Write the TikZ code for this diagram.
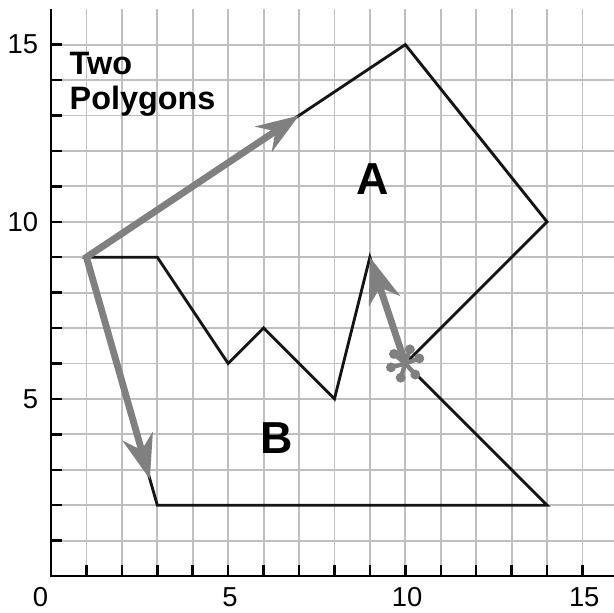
\documentclass[tikz,border=0pt]{standalone}
\usepackage{fontspec}
\setmainfont{Liberation Sans}
\usetikzlibrary{arrows.meta,calc}
\begin{document}
\begin{tikzpicture}[x=1cm,y=1cm,
  gridline/.style={draw=gray!50, line width=1.5pt},
  axisline/.style={draw=black, line width=1.4pt},
  tickline/.style={draw=black, line width=2pt},
  polyline/.style={draw=black!92, line width=2.3pt, line join=miter},
  garrowboth/.style={draw=gray, line width=5.5pt, line join=miter,
    {Stealth[length=1.25cm,width=0.88cm,inset=0.4cm]}-{Stealth[length=1.2cm,width=0.85cm,inset=0.4cm]}},
  garrow/.style={draw=gray, line width=5.5pt, -{Stealth[length=1.3cm,width=0.92cm,inset=0.4cm]}},
  petal/.style={draw=gray, line width=3.5pt, line cap=round},
  ticklabel/.style={font=\fontsize{22}{26}\selectfont, inner sep=0pt},
  biglabel/.style={font=\fontsize{36}{40}\selectfont\bfseries, inner sep=0pt},
  titlelabel/.style={font=\fontsize{26}{28}\selectfont\bfseries, inner sep=0pt, align=left}
]
\useasboundingbox (-1.44,-1.016) rectangle (15.89,16.26);
% grid
\foreach \x in {1,...,15} \draw[gridline] (\x,0) -- (\x,16);
\foreach \y in {1,...,15} \draw[gridline] (0,\y) -- (15.89,\y);
% axes
\draw[axisline] (0,16) -- (0,0) -- (15.89,0);
\foreach \y in {1,...,15} \draw[tickline] (0,\y) -- (0.31,\y);
\foreach \x in {1,...,15} \draw[tickline] (\x,0) -- (\x,0.31);
% tick labels
\node[ticklabel, anchor=east] (l15) at (-0.36,15) {15};
\node[ticklabel, anchor=east] (l10) at (-0.36,10) {10};
\node[ticklabel, anchor=east] (l5) at (-0.36,5) {5};
\node[ticklabel] (b0) at (-0.3,-0.6) {0};
\node[ticklabel] (b5) at (5.05,-0.6) {5};
\node[ticklabel] (b10) at (10.05,-0.6) {10};
\node[ticklabel] (b15) at (15.05,-0.6) {15};
% vertices
\coordinate (a1) at (1,9);
\coordinate (a2) at (10,15);
\coordinate (a3) at (14,10);
\coordinate (a4) at (10,6);
\coordinate (a5) at (9,9);
\coordinate (a6) at (8,5);
\coordinate (a7) at (6,7);
\coordinate (a8) at (5,6);
\coordinate (a9) at (3,9);
\coordinate (b7) at (14,2);
\coordinate (b8) at (3,2);
\coordinate (m) at (7,13);
\coordinate (t2) at ($(a1)!0.895!(b8)$);
% polygons
\draw[polyline] (a1) -- (a2) -- (a3) -- (a4) -- (a5) -- (a6) -- (a7) -- (a8) -- (a9) -- cycle;
\draw[polyline] (a4) -- (b7) -- (b8) -- (a1);
% gray arrows
\draw[garrowboth] (t2) -- (a1) -- (m);
\foreach \ang in {20,72,140,195,252,312} {
  \draw[petal] (a4) -- ($(a4)+(\ang:0.36)$);
  \fill[gray] ($(a4)+(\ang:0.42)$) circle (0.14);
}
\draw[garrow] (a4) -- (a5);
% labels
\node[titlelabel, anchor=north west] (title) at (0.52,14.8) {Two\\Polygons};
\node[biglabel] (la) at (9.09,11.2) {A};
\node[biglabel] (lb) at (6.38,3.9) {B};
\end{tikzpicture}
\end{document}
